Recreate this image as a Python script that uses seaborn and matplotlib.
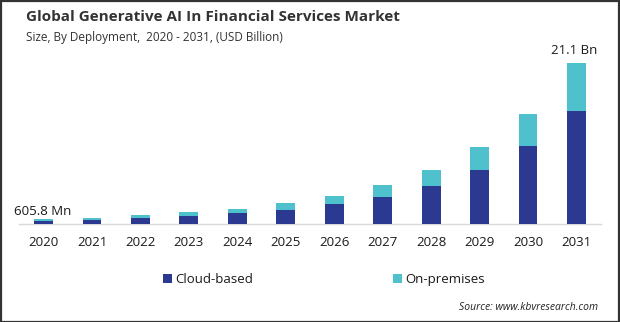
import matplotlib
matplotlib.use("Agg")
import matplotlib.pyplot as plt
from matplotlib.patches import Rectangle
import seaborn as sns
import pandas as pd

years = ["2020", "2021", "2022", "2023", "2024", "2025",
         "2026", "2027", "2028", "2029", "2030", "2031"]
cloud_based = [0.38, 0.52, 0.79, 1.05, 1.44, 1.83, 2.62, 3.53, 4.97, 7.07, 10.2, 14.8]
on_premises = [0.2258, 0.27, 0.39, 0.52, 0.52, 0.92, 1.04, 1.57, 2.10, 3.03, 4.2, 6.3]
series_names = ["Cloud-based", "On-premises"]
first_label = "605.8 Mn"
last_label = "21.1 Bn"

NAVY = "#2b3990"
TEAL = "#4fc1cc"

sns.set_theme(style="white")
plt.rcParams["font.family"] = ["Open Sans", "DejaVu Sans"]

df = pd.DataFrame({"year": years, "cloud": cloud_based, "onprem": on_premises})
df["total"] = df["cloud"] + df["onprem"]

W, H = 620, 322
fig = plt.figure(figsize=(W / 100, H / 100), dpi=100)
ax = fig.add_axes([19.3 / W, 98 / H, 581.4 / W, 172 / H])

# stacked bars: total in teal, cloud-based drawn over it from the baseline
sns.barplot(data=df, x="year", y="total", color=TEAL, width=0.39,
            saturation=1, linewidth=0, ax=ax, zorder=2)
sns.barplot(data=df, x="year", y="cloud", color=NAVY, width=0.39,
            saturation=1, linewidth=0, ax=ax, zorder=3)

ax.set_xlim(-0.5, 11.5)
ax.set_ylim(0, 22.5)
ax.set_xlabel("")
ax.set_ylabel("")
ax.set_yticks([])
for side in ["top", "right", "left"]:
    ax.spines[side].set_visible(False)
ax.spines["bottom"].set_color("#d9d9d9")
ax.spines["bottom"].set_linewidth(1.0)
ax.tick_params(axis="x", length=0, pad=9, labelsize=9.5, labelcolor="#1a1a1a")

ax.annotate(first_label, (0, df["total"].iloc[0]), xytext=(-0.5, 1),
            textcoords="offset points", ha="center", va="bottom",
            fontsize=9.5, color="#1a1a1a")
ax.annotate(last_label, (11, df["total"].iloc[-1]), xytext=(-2, 4),
            textcoords="offset points", ha="center", va="bottom",
            fontsize=9.5, color="#1a1a1a")

fig.text(26 / W, 1 - 17 / H, "Global Generative AI In Financial Services Market",
         fontsize=11, fontweight="bold", color="#333333", va="center", ha="left")
fig.text(26 / W, 1 - 37 / H, "Size, By Deployment,  2020 - 2031, (USD Billion)",
         fontsize=8.5, color="#333333", va="center", ha="left")

# legend: colour square followed by the series name, both on one baseline
for name, color, x0 in zip(series_names, [NAVY, TEAL], [163, 393]):
    fig.patches.append(Rectangle((x0 / W, 1 - 283 / H), 9 / W, 9 / H,
                                 transform=fig.transFigure, facecolor=color,
                                 edgecolor="none"))
    fig.text((x0 + 12) / W, 1 - 283 / H, name, fontsize=9.5, color="#1a1a1a",
             ha="left", va="baseline")

fig.text(598 / W, 1 - 307 / H, "Source: www.kbvresearch.com",
         fontsize=7.5, style="italic", color="#222222", ha="right", va="center")

fig.patches.append(Rectangle((0.5 / W, 0.5 / H), 618.5 / W, 320.5 / H,
                             transform=fig.transFigure, fill=False,
                             edgecolor="#333333", linewidth=1.6))

fig.savefig("out.png", dpi=100)
